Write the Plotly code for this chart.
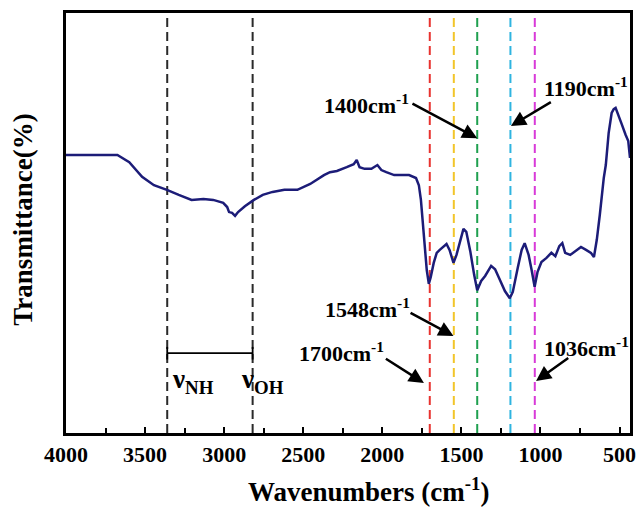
import plotly.graph_objects as go

# Spectrum data (wavenumber cm-1, transmittance %)
wavenumber = [4000, 3675, 3600, 3519, 3444, 3362, 3287, 3206, 3131, 3069, 3006, 2981, 2969, 2950,
              2931, 2912, 2869, 2812, 2756, 2694, 2619, 2537, 2456, 2369, 2331, 2287, 2225, 2181,
              2162, 2144, 2112, 2069, 2031, 2006, 1975, 1925, 1881, 1831, 1787, 1769, 1756, 1744,
              1731, 1719, 1706, 1694, 1675, 1656, 1637, 1612, 1594, 1575, 1550, 1531, 1506, 1487,
              1469, 1444, 1419, 1400, 1375, 1350, 1312, 1287, 1262, 1225, 1194, 1175, 1144, 1119,
              1100, 1075, 1056, 1037, 1019, 994, 962, 931, 906, 881, 862, 844, 812, 781, 744, 712,
              681, 662, 644, 625, 612, 600, 587, 569, 550, 537, 525, 506, 487, 462, 445, 434]
transmittance = [66.2, 66.2, 64.5, 61.0, 59.0, 57.9, 56.7, 55.5, 55.7, 55.5, 54.8, 53.8, 52.6, 52.4,
                 51.7, 52.6, 54.0, 55.5, 56.7, 57.4, 57.9, 57.9, 59.3, 61.4, 62.1, 62.4, 63.3, 64.0,
                 65.0, 63.3, 62.9, 62.9, 63.8, 62.6, 62.1, 61.4, 61.4, 61.4, 60.7, 59.0, 55.5, 49.5,
                 44.8, 38.8, 35.5, 37.1, 40.5, 42.9, 43.6, 44.3, 45.0, 43.6, 40.5, 42.4, 46.0, 48.6,
                 47.9, 43.3, 37.6, 34.0, 36.2, 37.4, 39.8, 39.0, 36.9, 33.8, 32.1, 33.6, 39.3, 43.6,
                 45.2, 42.4, 38.8, 34.8, 38.3, 40.7, 41.7, 42.9, 42.1, 44.5, 45.2, 42.9, 42.4, 43.3,
                 44.3, 43.6, 42.9, 41.9, 46.0, 51.9, 56.7, 60.7, 63.8, 71.4, 76.2, 77.1, 77.4, 75.7,
                 73.6, 71.0, 69.5, 65.5]

# Marked peaks
peak_positions = [1700, 1548, 1400, 1190, 1036]
peak_colors = ["#e8332f", "#f2c52a", "#1fa04f", "#2fb4e0", "#d83ad8"]
peak_labels = ["1700cm<sup>-1</sup>", "1548cm<sup>-1</sup>", "1400cm<sup>-1</sup>",
               "1190cm<sup>-1</sup>", "1036cm<sup>-1</sup>"]
# label centre (x, y) and arrow tail / head
label_pos = [(2256, 19.3), (2094, 29.8), (2100, 78.3), (712, 82.4), (709, 20.5)]
arrow_tail = [(1987, 17.9), (1831, 28.8), (1819, 78.6), (925, 79.0), (815, 18.1)]
arrow_head = [(1737, 11.9), (1550, 23.1), (1400, 70.2), (1187, 73.1), (1028, 12.4)]

# Band region
band_positions = [3360, 2820]
band_level = 19.0
band_labels = ["ν<sub>NH</sub>", "ν<sub>OH</sub>"]
band_label_x = [3195, 2757]
band_label_y = 12.3

xticks = [4000, 3500, 3000, 2500, 2000, 1500, 1000, 500]

FONT = "Liberation Serif"

fig = go.Figure()
fig.add_trace(go.Scatter(x=wavenumber, y=transmittance, mode="lines",
                         line=dict(color="#1c1c78", width=2.5), showlegend=False,
                         hoverinfo="skip"))
fig.add_trace(go.Scatter(x=band_positions, y=[band_level, band_level], mode="lines+markers",
                         line=dict(color="black", width=1.8),
                         marker=dict(symbol="line-ns-open", size=9,
                                     line=dict(color="black", width=1.8)),
                         showlegend=False, hoverinfo="skip"))

shapes = []
for bx in band_positions:
    shapes.append(dict(type="line", xref="x", yref="paper", x0=bx, x1=bx, y0=0, y1=1,
                       line=dict(color="#2a2a2a", width=2, dash="9px,5px"), layer="below"))
for px, c in zip(peak_positions, peak_colors):
    shapes.append(dict(type="line", xref="x", yref="paper", x0=px, x1=px, y0=0, y1=1,
                       line=dict(color=c, width=2, dash="9px,5px"), layer="below"))

annotations = []
for txt, (lx, ly), (tx, ty), (hx, hy) in zip(peak_labels, label_pos, arrow_tail, arrow_head):
    annotations.append(dict(x=lx, y=ly, xref="x", yref="y", text=txt, showarrow=False,
                            xanchor="center", yanchor="middle",
                            font=dict(family=FONT, size=22, color="black", weight="bold")))
    annotations.append(dict(x=hx, y=hy, ax=tx, ay=ty, xref="x", yref="y", axref="x", ayref="y",
                            text="", showarrow=True, arrowhead=2, arrowsize=1.2,
                            arrowwidth=2.5, arrowcolor="black"))
for txt, bx in zip(band_labels, band_label_x):
    annotations.append(dict(x=bx, y=band_label_y, xref="x", yref="y", text=txt, showarrow=False,
                            xanchor="center", yanchor="middle",
                            font=dict(family=FONT, size=27, color="black", weight="bold")))

annotations.append(dict(x=0.537, y=-0.135, xref="paper", yref="paper",
                        xanchor="center", yanchor="middle",
                        text="Wavenumbers (cm<sup>-1</sup>)", showarrow=False,
                        font=dict(family=FONT, size=27, color="black", weight="bold")))
annotations.append(dict(x=-0.077, y=0.507, xref="paper", yref="paper",
                        xanchor="center", yanchor="middle",
                        text="Transmittance(%)", showarrow=False, textangle=-90,
                        font=dict(family=FONT, size=27, color="black", weight="bold")))

fig.update_layout(
    width=641, height=509,
    margin=dict(l=66, r=5, t=13, b=76),
    plot_bgcolor="white", paper_bgcolor="white",
    shapes=shapes, annotations=annotations,
    xaxis=dict(range=[4000, 434], tickvals=xticks, ticks="inside", ticklen=6, tickwidth=2,
               tickcolor="black", showline=True, linewidth=2.5, linecolor="black", mirror=True,
               showgrid=False, zeroline=False,
               minor=dict(dtick=250, ticks="inside", ticklen=5, tickwidth=2, tickcolor="black",
                          showgrid=False),
               tickfont=dict(family=FONT, size=22, color="black", weight="bold")),
    yaxis=dict(range=[0, 100], showticklabels=False, ticks="", showline=True, linewidth=2.5,
               linecolor="black", mirror=True, showgrid=False, zeroline=False),
)

fig.write_html("out.html")
